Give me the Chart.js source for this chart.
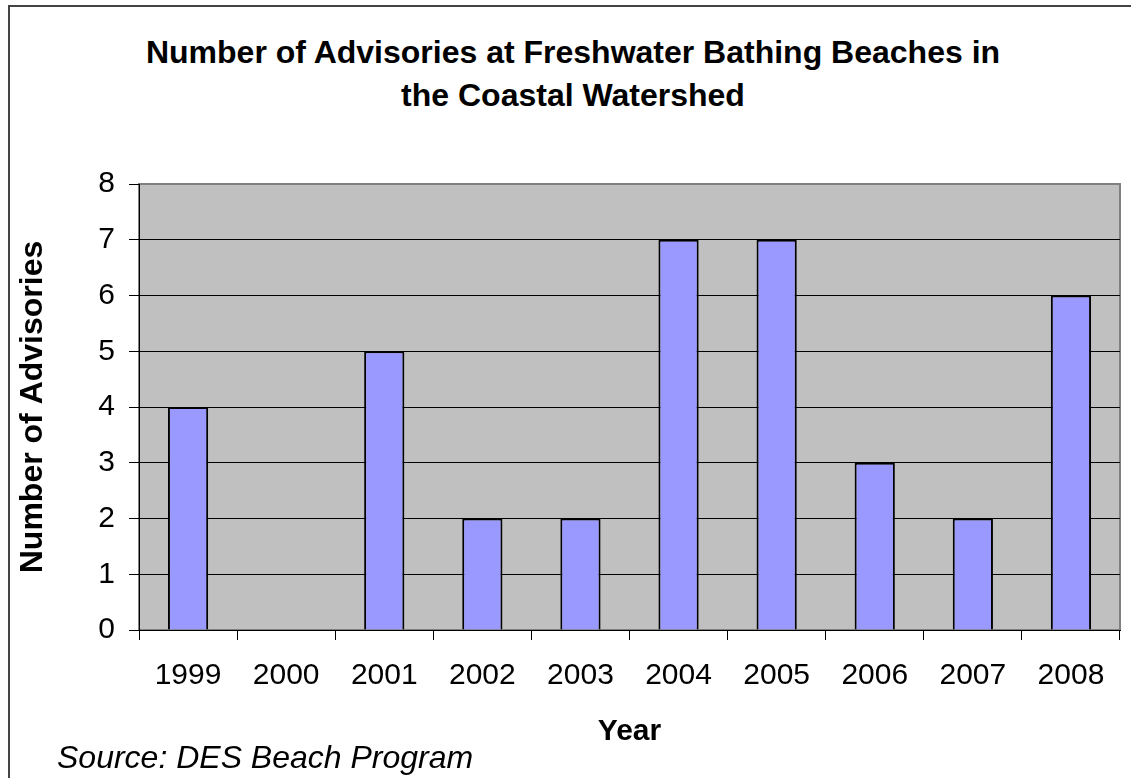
<!DOCTYPE html>
<html lang="en">
<head>
<meta charset="UTF-8">
<title>Number of Advisories at Freshwater Bathing Beaches</title>
<script src="https://cdn.jsdelivr.net/npm/chart.js"></script>
<style>
  * { box-sizing: border-box; margin: 0; padding: 0; }
  html, body { width: 1131px; height: 778px; overflow: hidden; background: #fff; }
  body { position: relative; font-family: 'Liberation Sans', Arial, sans-serif; color: #000; }
  .frame {
    position: absolute; left: 8px; top: 5px; width: 1200px; height: 900px;
    border-top: 2px solid #444; border-left: 2px solid #444;
  }
  h1 {
    position: absolute; left: 73px; top: 31px; width: 1000px;
    text-align: center; font-size: 32px; line-height: 43px; font-weight: bold;
    white-space: nowrap;
  }
  .chart-wrap { position: absolute; left: 0; top: 0; width: 1131px; height: 778px; }
  .source {
    position: absolute; left: 57px; top: 741px;
    font-style: italic; font-size: 32px; line-height: 32px;
    white-space: nowrap;
  }
</style>
</head>
<body>
  <div class="frame"></div>
  <h1>Number of Advisories at Freshwater Bathing Beaches in<br>the Coastal Watershed</h1>
  <div class="chart-wrap"><canvas id="advChart"></canvas></div>
  <div class="source">Source: DES Beach Program</div>

<script>
  const years = ['1999', '2000', '2001', '2002', '2003', '2004', '2005', '2006', '2007', '2008'];
  const advisories = [4, 0, 5, 2, 2, 7, 7, 3, 2, 6];

  const FONT = "'Liberation Sans', Arial, sans-serif";

  // grey plot background + grey frame round the plot area
  const plotBg = {
    id: 'plotBg',
    beforeDraw(chart) {
      const { ctx, chartArea: a } = chart;
      ctx.save();
      ctx.fillStyle = '#c0c0c0';
      ctx.fillRect(a.left, a.top, a.right - a.left, a.bottom - a.top);
      ctx.strokeStyle = '#808080';
      ctx.lineWidth = 2;
      ctx.strokeRect(a.left, a.top, a.right - a.left, a.bottom - a.top);
      ctx.restore();
    }
  };

  new Chart(document.getElementById('advChart'), {
    type: 'bar',
    data: {
      labels: years,
      datasets: [{
        data: advisories,
        backgroundColor: '#9999ff',
        borderColor: '#000',
        borderWidth: 2,
        categoryPercentage: 1,
        barPercentage: 0.41
      }]
    },
    options: {
      responsive: true,
      maintainAspectRatio: false,
      animation: false,
      layout: { padding: { top: 184, left: 0, right: 11, bottom: 0 } },
      plugins: {
        legend: { display: false },
        tooltip: { enabled: false },
        title: { display: false }
      },
      scales: {
        x: {
          grid: { drawOnChartArea: false, drawTicks: true, tickLength: 10, color: '#000', offset: true },
          border: { color: '#000', width: 1 },
          ticks: { color: '#000', font: { family: FONT, size: 30 }, padding: 18, maxRotation: 0 },
          title: {
            display: true, text: 'Year', color: '#000',
            font: { family: FONT, size: 30, weight: 'bold' },
            padding: { top: 0, bottom: 28 }
          },
          afterFit(scale) { scale.height = 148; }
        },
        y: {
          min: 0,
          max: 8,
          grid: {
            color: c => (c.tick && c.tick.value === 8 ? '#808080' : '#000'),
            tickColor: '#000',
            tickLength: 10,
            lineWidth: 1
          },
          border: { color: '#000', width: 1 },
          ticks: { stepSize: 1, color: '#000', font: { family: FONT, size: 30 }, padding: 14 },
          title: {
            display: true, text: 'Number of Advisories', color: '#000',
            font: { family: FONT, size: 32, weight: 'bold' },
            padding: { top: 14, bottom: 0 }
          },
          afterFit(scale) { scale.width = 139; }
        }
      }
    },
    plugins: [plotBg]
  });
</script>
</body>
</html>
